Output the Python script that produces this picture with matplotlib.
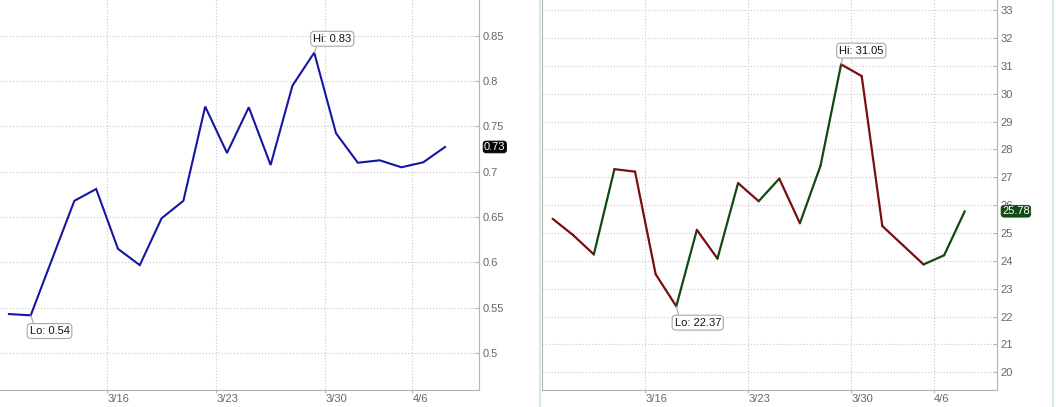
import matplotlib
matplotlib.use('Agg')
import matplotlib.pyplot as plt
from matplotlib.lines import Line2D
import numpy as np

plt.rcParams['font.family'] = ['Liberation Sans', 'DejaVu Sans']

# ---- data ----
dates = ['3/9', '3/10', '3/11', '3/12', '3/13',
         '3/16', '3/17', '3/18', '3/19', '3/20',
         '3/23', '3/24', '3/25', '3/26', '3/27',
         '3/30', '3/31', '4/1', '4/2',
         '4/6', '4/7']
left_values = [0.543, 0.5416, 0.605, 0.668, 0.681,
               0.615, 0.597, 0.6487, 0.668, 0.772,
               0.7208, 0.7712, 0.7075, 0.795, 0.8315,
               0.7425, 0.710, 0.7127, 0.705,
               0.7105, 0.7274]
right_values = [25.51, 24.92, 24.23, 27.29, 27.20,
                23.52, 22.37, 25.11, 24.08, 26.79,
                26.14, 26.95, 25.35, 27.41, 31.05,
                30.63, 25.25, 24.56, 23.87,
                24.20, 25.78]
week_labels = ['3/16', '3/23', '3/30', '4/6']
left_yticks = [0.5, 0.55, 0.6, 0.65, 0.7, 0.75, 0.8, 0.85]
left_yticklabels = ['0.5', '0.55', '0.6', '0.65', '0.7', '0.75', '0.8', '0.85']
right_yticks = list(range(20, 34))

# ---- style ----
W, H = 1056, 407
GRID = '#c8c8c8'
SPINE = '#b4b4b4'
LABEL = '#666666'
BLUE = '#1616a0'
UP = '#0f4a12'
DOWN = '#7a0d0d'

fig = plt.figure(figsize=(W / 100, H / 100), dpi=100)
fig.patch.set_facecolor('white')

ax1 = fig.add_axes([0 / W, 17 / H, 479.3 / W, 390 / H])
ax2 = fig.add_axes([541.7 / W, 17 / H, (997.3 - 541.7) / W, 390 / H])

x = np.arange(len(dates))
tick_pos = [dates.index(d) - 0.5 for d in week_labels]

# left chart
ax1.plot(x, left_values, color=BLUE, lw=1.5, solid_joinstyle='miter', zorder=2.6)
ax1.set_xlim(-0.41, 21.57)
ax1.set_ylim(0.4592, 0.8896)
ax1.set_yticks(left_yticks)
ax1.set_yticklabels(left_yticklabels)

# right chart: segments coloured by direction
rv = right_values
for i in range(len(rv) - 1):
    c = UP if rv[i + 1] > rv[i] else DOWN
    ax2.plot(x[i:i + 2], rv[i:i + 2], color=c, lw=1.6,
             solid_capstyle='round', zorder=2.6)
ax2.set_xlim(-0.53, 21.58)
ax2.set_ylim(19.365, 33.36)
ax2.set_yticks(right_yticks)
ax2.set_yticklabels([str(t) for t in right_yticks])

for ax in (ax1, ax2):
    ax.set_facecolor('white')
    ax.set_xticks(tick_pos)
    ax.set_xticklabels(week_labels)
    for tl in ax.get_xticklabels():
        tl.set_ha('left')
    ax.grid(True, color=GRID, linestyle=(0, (1, 1.8)), lw=0.8)
    ax.set_axisbelow(True)
    ax.yaxis.tick_right()
    ax.tick_params(axis='y', direction='in', length=3, color=SPINE,
                   labelsize=8, labelcolor=LABEL, pad=2.5,
                   right=True, left=False, labelright=True, labelleft=False)
    ax.tick_params(axis='x', direction='out', length=2, color=SPINE,
                   labelsize=8, labelcolor=LABEL, pad=1)
    ax.spines['top'].set_visible(False)
    for s in ('right', 'bottom', 'left'):
        ax.spines[s].set_color(SPINE)
        ax.spines[s].set_linewidth(0.8)
ax1.spines['left'].set_visible(False)


def hilo(ax, vals, idx, text, off, relpos):
    ax.annotate(text, xy=(x[idx], vals[idx]), xytext=off,
                textcoords='offset points', ha='center', va='center',
                fontsize=8, color='#111111', zorder=5,
                bbox=dict(boxstyle='round,pad=0.22,rounding_size=0.35',
                          fc='white', ec='#a8a8a8', lw=0.8),
                arrowprops=dict(arrowstyle='-', color='#a8a8a8', lw=0.8,
                                shrinkA=0, shrinkB=0, relpos=relpos),
                annotation_clip=False)


li_hi = int(np.argmax(left_values)); li_lo = int(np.argmin(left_values))
ri_hi = int(np.argmax(right_values)); ri_lo = int(np.argmin(right_values))
hilo(ax1, left_values, li_hi, f'Hi: {left_values[li_hi]:.2f}', (13, 10), (0.12, 0))
hilo(ax1, left_values, li_lo, f'Lo: {left_values[li_lo]:.2f}', (13.5, -11.3), (0.12, 1))
hilo(ax2, right_values, ri_hi, f'Hi: {right_values[ri_hi]:.2f}', (14.5, 9.9), (0.1, 0))
hilo(ax2, right_values, ri_lo, f'Lo: {right_values[ri_lo]:.2f}', (15.5, -11.8), (0.1, 1))


def last_tag(ax, val, fc):
    ax.annotate(f'{val:.2f}', xy=(1, val), xycoords=('axes fraction', 'data'),
                xytext=(3.4, 0), textcoords='offset points', ha='left',
                va='center', fontsize=8, color='white', zorder=6,
                bbox=dict(boxstyle='round,pad=0.08,rounding_size=0.25',
                          fc=fc, ec=fc, lw=0.6),
                annotation_clip=False)


last_tag(ax1, left_values[-1], '#050505')
last_tag(ax2, right_values[-1], '#124a14')

# panel separators
fig.add_artist(Line2D([539.5 / W] * 2, [0, 1], color='#d6e7ef', lw=1.5))
fig.add_artist(Line2D([1052.5 / W] * 2, [0, 1], color='#d6e7ef', lw=1.5))

fig.savefig('out.png', dpi=100, facecolor='white')
